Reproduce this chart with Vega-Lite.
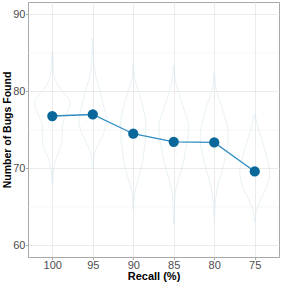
{
  "$schema": "https://vega.github.io/schema/vega-lite/v6.json",
  "width": 251,
  "height": 255,
  "autosize": "none",
  "padding": {"left": 28, "top": 2, "right": 4, "bottom": 26},
  "background": "white",
  "config": {
    "view": {"stroke": "#a8a8a8", "strokeWidth": 1},
    "font": "Liberation Sans",
    "axis": {
      "labelFont": "Liberation Sans",
      "titleFont": "Liberation Sans",
      "labelFontSize": 11,
      "labelColor": "#4d4d4d",
      "titleFontSize": 11,
      "titleFontWeight": "bold",
      "titleColor": "#000000",
      "gridColor": "#e6e6e6",
      "gridWidth": 0.8,
      "tickColor": "#a8a8a8",
      "tickSize": 2.5,
      "domain": false,
      "labelPadding": 0
    }
  },
  "datasets": {
    "violin": [
      {"g": 100, "v": 85, "lo": 99.94, "hi": 100.06},
      {"g": 100, "v": 83, "lo": 99.88, "hi": 100.12},
      {"g": 100, "v": 81.5, "lo": 99.63, "hi": 100.37},
      {"g": 100, "v": 80, "lo": 98.77, "hi": 101.23},
      {"g": 100, "v": 78.5, "lo": 97.78, "hi": 102.22},
      {"g": 100, "v": 77, "lo": 98.27, "hi": 101.73},
      {"g": 100, "v": 75.5, "lo": 98.77, "hi": 101.23},
      {"g": 100, "v": 74, "lo": 98.77, "hi": 101.23},
      {"g": 100, "v": 73, "lo": 98.89, "hi": 101.11},
      {"g": 100, "v": 72, "lo": 99.26, "hi": 100.74},
      {"g": 100, "v": 71, "lo": 99.63, "hi": 100.37},
      {"g": 100, "v": 70, "lo": 99.81, "hi": 100.19},
      {"g": 100, "v": 69, "lo": 99.9, "hi": 100.1},
      {"g": 100, "v": 68, "lo": 99.96, "hi": 100.04},

      {"g": 95, "v": 86.8, "lo": 94.96, "hi": 95.04},
      {"g": 95, "v": 84, "lo": 94.88, "hi": 95.12},
      {"g": 95, "v": 82, "lo": 94.63, "hi": 95.37},
      {"g": 95, "v": 80, "lo": 94.07, "hi": 95.93},
      {"g": 95, "v": 78, "lo": 93.64, "hi": 96.36},
      {"g": 95, "v": 76.5, "lo": 93.27, "hi": 96.73},
      {"g": 95, "v": 75, "lo": 93.52, "hi": 96.48},
      {"g": 95, "v": 74, "lo": 93.89, "hi": 96.11},
      {"g": 95, "v": 73, "lo": 94.38, "hi": 95.62},
      {"g": 95, "v": 72, "lo": 94.75, "hi": 95.25},
      {"g": 95, "v": 71, "lo": 94.88, "hi": 95.12},
      {"g": 95, "v": 70.2, "lo": 94.96, "hi": 95.04},

      {"g": 90, "v": 83.6, "lo": 89.96, "hi": 90.04},
      {"g": 90, "v": 82, "lo": 89.88, "hi": 90.12},
      {"g": 90, "v": 80.5, "lo": 89.51, "hi": 90.49},
      {"g": 90, "v": 79, "lo": 89.07, "hi": 90.93},
      {"g": 90, "v": 77.5, "lo": 88.7, "hi": 91.3},
      {"g": 90, "v": 76, "lo": 88.46, "hi": 91.54},
      {"g": 90, "v": 74.5, "lo": 88.46, "hi": 91.54},
      {"g": 90, "v": 73, "lo": 88.58, "hi": 91.42},
      {"g": 90, "v": 71.5, "lo": 88.77, "hi": 91.23},
      {"g": 90, "v": 70, "lo": 89.01, "hi": 90.99},
      {"g": 90, "v": 68.5, "lo": 89.44, "hi": 90.56},
      {"g": 90, "v": 67.5, "lo": 89.69, "hi": 90.31},
      {"g": 90, "v": 66.5, "lo": 89.88, "hi": 90.12},
      {"g": 90, "v": 64.6, "lo": 89.96, "hi": 90.04},

      {"g": 85, "v": 83.3, "lo": 84.96, "hi": 85.04},
      {"g": 85, "v": 81.5, "lo": 84.81, "hi": 85.19},
      {"g": 85, "v": 80, "lo": 84.44, "hi": 85.56},
      {"g": 85, "v": 78.5, "lo": 84.01, "hi": 85.99},
      {"g": 85, "v": 77, "lo": 83.52, "hi": 86.48},
      {"g": 85, "v": 75.5, "lo": 83.15, "hi": 86.85},
      {"g": 85, "v": 74, "lo": 83.27, "hi": 86.73},
      {"g": 85, "v": 72.5, "lo": 83.52, "hi": 86.48},
      {"g": 85, "v": 71, "lo": 83.77, "hi": 86.23},
      {"g": 85, "v": 69.5, "lo": 84.14, "hi": 85.86},
      {"g": 85, "v": 68, "lo": 84.57, "hi": 85.43},
      {"g": 85, "v": 66.5, "lo": 84.85, "hi": 85.15},
      {"g": 85, "v": 64.5, "lo": 84.93, "hi": 85.07},
      {"g": 85, "v": 62.8, "lo": 84.96, "hi": 85.04},

      {"g": 80, "v": 82.4, "lo": 79.96, "hi": 80.04},
      {"g": 80, "v": 80.5, "lo": 79.81, "hi": 80.19},
      {"g": 80, "v": 79, "lo": 79.38, "hi": 80.62},
      {"g": 80, "v": 77.5, "lo": 78.89, "hi": 81.11},
      {"g": 80, "v": 76, "lo": 78.52, "hi": 81.48},
      {"g": 80, "v": 74.5, "lo": 78.27, "hi": 81.73},
      {"g": 80, "v": 73, "lo": 78.33, "hi": 81.67},
      {"g": 80, "v": 71.5, "lo": 78.64, "hi": 81.36},
      {"g": 80, "v": 70, "lo": 78.95, "hi": 81.05},
      {"g": 80, "v": 68.5, "lo": 79.38, "hi": 80.62},
      {"g": 80, "v": 67, "lo": 79.69, "hi": 80.31},
      {"g": 80, "v": 65.5, "lo": 79.88, "hi": 80.12},
      {"g": 80, "v": 63.7, "lo": 79.96, "hi": 80.04},

      {"g": 75, "v": 77, "lo": 74.96, "hi": 75.04},
      {"g": 75, "v": 75.5, "lo": 74.63, "hi": 75.37},
      {"g": 75, "v": 74, "lo": 74.2, "hi": 75.8},
      {"g": 75, "v": 72.5, "lo": 73.77, "hi": 76.23},
      {"g": 75, "v": 71, "lo": 73.4, "hi": 76.6},
      {"g": 75, "v": 69.5, "lo": 73.15, "hi": 76.85},
      {"g": 75, "v": 68, "lo": 73.4, "hi": 76.6},
      {"g": 75, "v": 67, "lo": 73.77, "hi": 76.23},
      {"g": 75, "v": 66, "lo": 74.26, "hi": 75.74},
      {"g": 75, "v": 65, "lo": 74.63, "hi": 75.37},
      {"g": 75, "v": 64, "lo": 74.88, "hi": 75.12},
      {"g": 75, "v": 63.2, "lo": 74.96, "hi": 75.04}
    ],
    "means": [
      {"recall": 100, "bugs": 76.8},
      {"recall": 95, "bugs": 77.0},
      {"recall": 90, "bugs": 74.5},
      {"recall": 85, "bugs": 73.45},
      {"recall": 80, "bugs": 73.37},
      {"recall": 75, "bugs": 69.6}
    ],
    "minor": [{"y": 65}, {"y": 75}, {"y": 85}]
  },
  "layer": [
    {
      "data": {"name": "minor"},
      "mark": {"type": "rule", "color": "#eeeeee", "strokeWidth": 0.5},
      "encoding": {
        "y": {"field": "y", "type": "quantitative"}
      }
    },
    {
      "data": {"name": "violin"},
      "mark": {"type": "area", "orient": "horizontal", "interpolate": "monotone", "fillOpacity": 0, "stroke": "#d8e7ef", "strokeWidth": 0.6},
      "encoding": {
        "y": {"field": "v", "type": "quantitative"},
        "x": {"field": "lo", "type": "quantitative"},
        "x2": {"field": "hi"},
        "detail": {"field": "g"}
      }
    },
    {
      "data": {"name": "means"},
      "mark": {"type": "line", "color": "#2f8dc0", "strokeWidth": 1.3},
      "encoding": {
        "x": {"field": "recall", "type": "quantitative"},
        "y": {"field": "bugs", "type": "quantitative"}
      }
    },
    {
      "data": {"name": "means"},
      "mark": {"type": "circle", "color": "#0a679a", "size": 105, "opacity": 1},
      "encoding": {
        "x": {"field": "recall", "type": "quantitative"},
        "y": {"field": "bugs", "type": "quantitative"}
      }
    }
  ],
  "encoding": {
    "x": {
      "type": "quantitative",
      "scale": {"domain": [72, 103], "reverse": true, "nice": false, "zero": false},
      "axis": {"title": "Recall (%)", "values": [100, 95, 90, 85, 80, 75], "titlePadding": 0}
    },
    "y": {
      "type": "quantitative",
      "scale": {"domain": [58.5, 91.6], "nice": false, "zero": false},
      "axis": {"title": "Number of Bugs Found", "values": [60, 70, 80, 90], "titlePadding": 0.5, "labelPadding": 0.5, "titleFontSize": 10.5}
    }
  }
}
